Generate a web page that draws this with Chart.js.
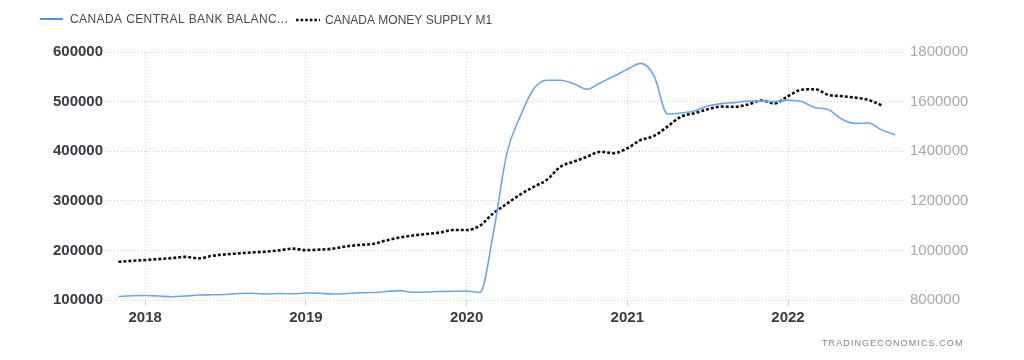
<!DOCTYPE html>
<html>
<head>
<meta charset="utf-8">
<script src="https://cdn.jsdelivr.net/npm/chart.js@4.4.1/dist/chart.umd.min.js"></script>
<style>
html,body{margin:0;padding:0;background:#fff;}
#wrap{width:1024px;height:360px;}
</style>
</head>
<body>
<div id="wrap"><canvas id="c" width="1024" height="360"></canvas></div>
<script>
// ---- data ----
const months = [
 "2017-11","2017-12",
 "2018-01","2018-02","2018-03","2018-04","2018-05","2018-06","2018-07","2018-08","2018-09","2018-10","2018-11","2018-12",
 "2019-01","2019-02","2019-03","2019-04","2019-05","2019-06","2019-07","2019-08","2019-09","2019-10","2019-11","2019-12",
 "2020-01","2020-02","2020-03","2020-04","2020-05","2020-06","2020-07","2020-08","2020-09","2020-10","2020-11","2020-12",
 "2021-01","2021-02","2021-03","2021-04","2021-05","2021-06","2021-07","2021-08","2021-09","2021-10","2021-11","2021-12",
 "2022-01","2022-02","2022-03","2022-04","2022-05","2022-06","2022-07","2022-08","2022-09"
];
const balanceSheet = [
 107000,108500,
 109000,108000,106500,108000,110000,110500,111000,113000,113500,112000,113000,112500,
 114000,113500,112000,113000,114500,115000,117000,119000,115500,116000,117000,117500,
 118000,115000,235000,395000,470000,525000,543000,543000,536000,525000,538000,551000,
 565000,577000,552000,475000,477000,481000,491000,496000,498000,501000,501000,500000,
 503000,500000,488000,484000,465000,456000,457000,443000,433000
];
const moneySupplyM1 = [
 954000,958000,
 961000,965000,969000,974000,968000,978000,984000,988000,992000,995000,1000000,1007000,
 1001000,1003000,1007000,1016000,1022000,1026000,1040000,1052000,1060000,1066000,1072000,1082000,
 1082000,1100000,1150000,1188000,1225000,1256000,1285000,1337000,1358000,1378000,1398000,1392000,
 1412000,1445000,1462000,1499000,1539000,1553000,1569000,1580000,1579000,1588000,1604000,1593000,
 1622000,1648000,1650000,1627000,1622000,1616000,1607000,1585000
];
const seriesNames = ["CANADA CENTRAL BANK BALANC...", "CANADA MONEY SUPPLY M1"];
const leftTicks = [100000, 200000, 300000, 400000, 500000, 600000];
const rightTicks = [800000, 1000000, 1200000, 1400000, 1600000, 1800000];
const yearTicks = [2018, 2019, 2020, 2021, 2022];
const watermark = "TRADINGECONOMICS.COM";

// ---- build ----
function monthToX(m){ const p = m.split("-"); return +p[0] + (+p[1]-1)/12; }
const toPoints = vals => vals.map((v,i)=>({x: monthToX(months[i]), y: v}));

const FONT = '"Liberation Sans", Arial, sans-serif';
const BLUE = '#6aa6f2';
const GRID = '#d2d2d2';

const overlay = {
  id: 'overlay',
  afterDraw(chart){
    const ctx = chart.ctx;
    ctx.save();
    // legend
    ctx.setLineDash([]);
    ctx.lineWidth = 2; ctx.strokeStyle = '#4f91f0';
    ctx.beginPath(); ctx.moveTo(40,19); ctx.lineTo(63,19); ctx.stroke();
    ctx.font = '12px ' + FONT; ctx.fillStyle = '#4a4a4a'; ctx.textBaseline = 'middle'; ctx.textAlign = 'left';
    if ('letterSpacing' in ctx) ctx.letterSpacing = '0.4px';
    ctx.fillText(seriesNames[0], 70, 20);
    ctx.setLineDash([2.6,2]); ctx.lineWidth = 2.6; ctx.strokeStyle = '#111';
    ctx.beginPath(); ctx.moveTo(296,20); ctx.lineTo(320,20); ctx.stroke();
    if ('letterSpacing' in ctx) ctx.letterSpacing = '0px';
    ctx.fillText(seriesNames[1], 325, 20.5);
    // watermark
    ctx.font = '9px ' + FONT; ctx.fillStyle = '#858585';
    if ('letterSpacing' in ctx) ctx.letterSpacing = '1.1px';
    ctx.fillText(watermark, 822, 343.5);
    ctx.restore();
  }
};

new Chart(document.getElementById('c'), {
  type: 'line',
  data: {
    datasets: [
      { label: seriesNames[0], data: toPoints(balanceSheet), yAxisID: 'y',
        borderColor: BLUE, borderWidth: 1.6, pointRadius: 0, fill: false,
        cubicInterpolationMode: 'monotone' },
      { label: seriesNames[1], data: toPoints(moneySupplyM1), yAxisID: 'y1',
        borderColor: '#111', borderWidth: 2.6, borderDash: [3,2], pointRadius: 0, fill: false,
        cubicInterpolationMode: 'monotone' }
    ]
  },
  options: {
    responsive: false, animation: false,
    layout: { padding: { top: 52, left: 0, right: 0, bottom: 30 } },
    plugins: { legend: { display: false }, tooltip: { enabled: false } },
    scales: {
      x: {
        type: 'linear', min: 2017.75, max: 2022.728,
        afterFit(s){ s.height = 30; },
        afterBuildTicks(s){ s.ticks = yearTicks.map(v=>({value:v})); },
        ticks: { callback: v => String(v), font: { family: FONT, size: 15, weight: 'bold' }, color: '#3a3a44', padding: 3, maxRotation: 0, autoSkip: false },
        grid: { color: GRID, tickLength: 6 },
        border: { display: false, dash: [1,2] }
      },
      y: {
        position: 'left', min: leftTicks[0], max: leftTicks[leftTicks.length-1],
        afterFit(s){ s.width = 105; },
        afterBuildTicks(s){ s.ticks = leftTicks.map(v=>({value:v})); },
        ticks: { callback: v => String(v), font: { family: FONT, size: 15, weight: 'bold' }, color: '#3a3a44', padding: 2 },
        grid: { color: GRID, drawTicks: false },
        border: { display: false, dash: [1,2] }
      },
      y1: {
        position: 'right', min: rightTicks[0], max: rightTicks[rightTicks.length-1],
        afterFit(s){ s.width = 119; },
        afterBuildTicks(s){ s.ticks = rightTicks.map(v=>({value:v})); },
        ticks: { callback: v => String(v), font: { family: FONT, size: 15 }, color: '#a8a8a8', padding: 5 },
        grid: { display: false, drawTicks: false },
        border: { display: false }
      }
    }
  },
  plugins: [overlay]
});
</script>
</body>
</html>
